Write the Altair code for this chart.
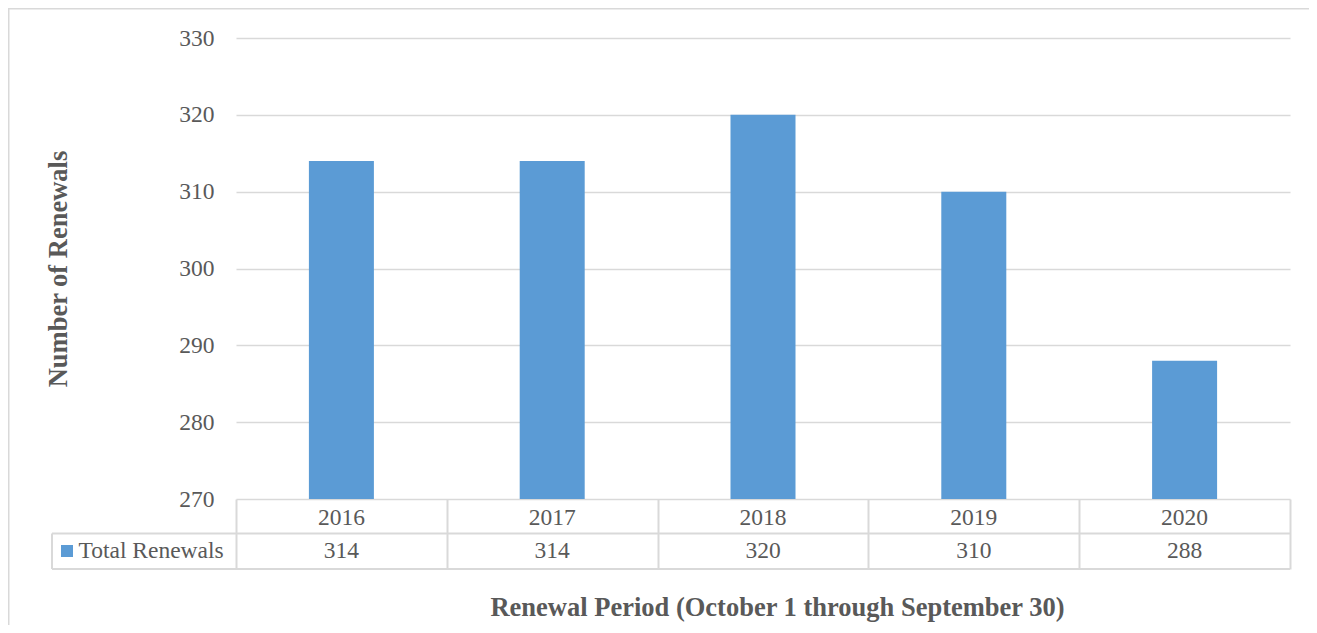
import altair as alt
import pandas as pd

years = ["2016", "2017", "2018", "2019", "2020"]
renewals = [314, 314, 320, 310, 288]
series_name = ["Total Renewals"]
y_ticks = [270, 280, 290, 300, 310, 320, 330]

df = pd.DataFrame({"year": years, "renewals": renewals})
one = pd.DataFrame({"name": series_name})

FONT = "Liberation Serif"
GRAY = "#595959"
LINE = "#d9d9d9"
BLUE = "#5B9BD5"
W, H = 1054, 461

x_enc = alt.X(
    "year:N",
    sort=years,
    scale=alt.Scale(paddingInner=0, paddingOuter=0),
    axis=alt.Axis(
        labels=False, ticks=True, tickBand="extent", tickSize=70,
        tickColor=LINE, tickWidth=2, domain=False, grid=False,
        title="Renewal Period (October 1 through September 30)",
        titleFont=FONT, titleFontSize=26.5, titleFontWeight="bold",
        titleColor=GRAY, titleX=541, titleY=108, titleBaseline="middle",
    ),
)

y_enc = alt.Y(
    "renewals:Q",
    scale=alt.Scale(domain=[270, 330], zero=False, nice=False),
    axis=alt.Axis(
        values=y_ticks, ticks=False, domain=False, grid=True,
        gridColor=LINE, gridWidth=1.5,
        labelFont=FONT, labelFontSize=23.5, labelColor=GRAY, labelPadding=22,
        title="Number of Renewals", titleFont=FONT, titleFontSize=26.5,
        titleFontWeight="bold", titleColor=GRAY, titlePadding=106,
    ),
)

base = alt.Chart(df)

bars = base.mark_bar(width=65, color=BLUE).encode(
    x=x_enc, y=y_enc, y2=alt.Y2Datum(270)
)

year_text = base.mark_text(font=FONT, fontSize=23.5, color=GRAY, baseline="middle").encode(
    x=x_enc, y=alt.value(H + 18.5), text="year:N"
)
value_text = base.mark_text(font=FONT, fontSize=23.5, color=GRAY, baseline="middle").encode(
    x=x_enc, y=alt.value(H + 52), text="renewals:Q"
)

lab = alt.Chart(one)
legend_sq = lab.mark_square(size=144, color=BLUE, opacity=1).encode(
    x=alt.value(-169), y=alt.value(H + 52)
)
legend_txt = lab.mark_text(font=FONT, fontSize=23.5, color=GRAY, align="left", baseline="middle").encode(
    x=alt.value(-157.5), y=alt.value(H + 52), text="name:N"
)

rule = lab.mark_rule(color=LINE, strokeWidth=2)
row_line = rule.encode(x=alt.value(-184), x2=alt.value(W), y=alt.value(H + 34.5))
bottom_line = rule.encode(x=alt.value(-184), x2=alt.value(W), y=alt.value(H + 70))
left_cell = rule.encode(x=alt.value(-184), y=alt.value(H + 34.5), y2=alt.value(H + 70))
border_top = rule.encode(x=alt.value(-228), x2=alt.value(1073), y=alt.value(-29.5))
border_left = rule.encode(x=alt.value(-227.5), y=alt.value(-30), y2=alt.value(H + 126))

chart = alt.layer(
    border_top, border_left, row_line, bottom_line, left_cell,
    bars, year_text, value_text, legend_sq, legend_txt,
).properties(
    width=W, height=H,
    autosize=alt.AutoSizeParams(type="none"),
    padding={"left": 228, "top": 30, "right": 19, "bottom": 126},
).configure_view(strokeWidth=0)

chart.save("out.html", embed_options={"renderer": "svg", "actions": False})
